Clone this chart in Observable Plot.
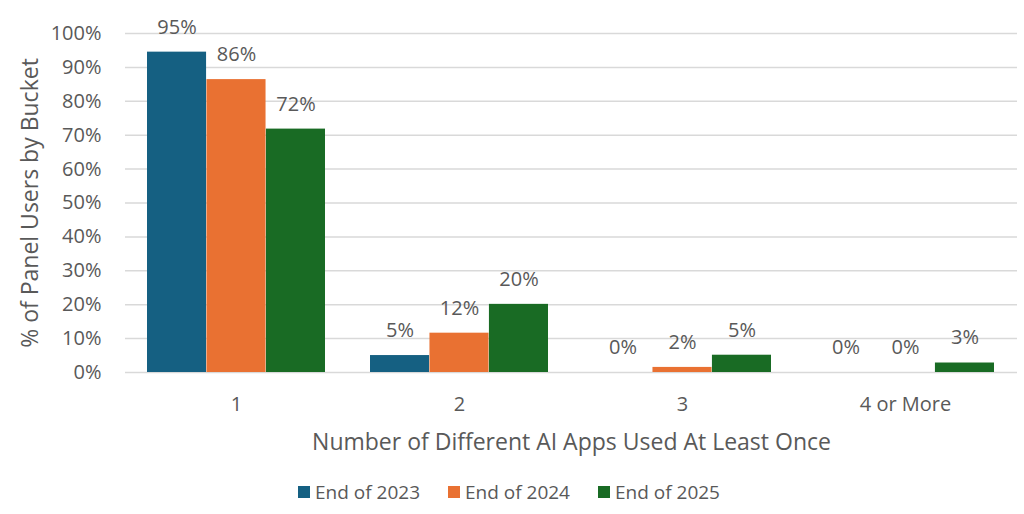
<!DOCTYPE html>
<html>
<head>
<meta charset="utf-8">
<script src="https://cdn.jsdelivr.net/npm/d3@7"></script>
<script src="https://cdn.jsdelivr.net/npm/@observablehq/plot@0.6"></script>
<style>
  body { margin: 0; background: #fff; font-family: "Open Sans", Lato, sans-serif; }
  #legend { display: flex; justify-content: center; gap: 28px; font-size: 19px; color: #595959; height: 44px; align-items: center; margin-left: -6px;}
  .item { display: flex; align-items: center; gap: 5px; }
  .sw { width: 12px; height: 12px; display: inline-block; }
</style>
</head>
<body>
<div id="chart"></div>
<div id="legend"></div>
<script>
const buckets = ["1", "2", "3", "4 or More"];
const series = ["End of 2023", "End of 2024", "End of 2025"];
const colors = ["#156082", "#E97132", "#196B24"];
const values2023 = [94.5, 5.0, 0.0, 0.0];
const values2024 = [86.4, 11.6, 1.5, 0.0];
const values2025 = [71.8, 20.1, 5.1, 2.8];
const yTicks = [0, 10, 20, 30, 40, 50, 60, 70, 80, 90, 100];
const xTitle = "Number of Different AI Apps Used At Least Once";
const yTitle = "% of Panel Users by Bucket";

const seriesValues = [values2023, values2024, values2025];

const W = 1024, ML = 125, MR = 7;
const padInner = 0.2, padOuter = 0.1;
const step = (W - ML - MR) / (buckets.length - padInner + 2 * padOuter);
const barW = step * (1 - padInner) / series.length;

const textColor = "#595959";
const font = "'Open Sans', Lato, sans-serif";

const seriesMarks = series.flatMap((s, j) => {
  const rows = buckets.map((b, i) => ({bucket: b, series: s, value: seriesValues[j][i]}));
  return [
    Plot.barY(rows, {x: "bucket", y: "value", fill: colors[j], insetLeft: j * barW, insetRight: (series.length - 1 - j) * barW}),
    Plot.text(rows, {x: "bucket", y: "value", text: d => Math.round(d.value) + "%", dx: (j - 1) * barW, dy: -25, fill: textColor, fontSize: 20})
  ];
});

const chart = Plot.plot({
  width: W,
  height: 470,
  marginTop: 33,
  marginBottom: 98,
  marginLeft: ML,
  marginRight: MR,
  style: {fontFamily: font, fontSize: "20px", color: textColor, background: "#fff"},
  x: {domain: buckets, paddingInner: padInner, paddingOuter: padOuter},
  y: {domain: [0, 100]},
  marks: [
    Plot.ruleY(yTicks, {stroke: "#d9d9d9", strokeWidth: 1.5}),
    ...seriesMarks,
    Plot.axisY({ticks: yTicks, tickFormat: d => d + "%", tickSize: 0, tickPadding: 24, fontSize: 20, label: null}),
    Plot.axisX({tickSize: 0, tickPadding: 24, fontSize: 20, label: null}),
    Plot.text([xTitle], {frameAnchor: "bottom", text: d => d, dy: 70, lineAnchor: "middle", textAnchor: "middle", fontSize: 23, fill: textColor}),
    Plot.text([yTitle], {frameAnchor: "left", text: d => d, dx: -95, rotate: -90, lineAnchor: "middle", textAnchor: "middle", fontSize: 23, fill: textColor})
  ]
});
document.getElementById("chart").appendChild(chart);

const leg = document.getElementById("legend");
series.forEach((s, i) => {
  const it = document.createElement("div");
  it.className = "item";
  it.innerHTML = `<span class="sw" style="background:${colors[i]}"></span><span>${s}</span>`;
  leg.appendChild(it);
});
</script>
</body>
</html>
